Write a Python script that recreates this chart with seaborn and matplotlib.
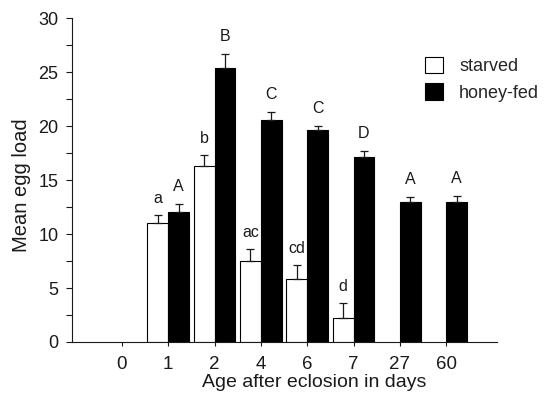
import numpy as np
import pandas as pd
import matplotlib
matplotlib.use('Agg')
import matplotlib.pyplot as plt
from matplotlib.patches import Patch
from matplotlib.ticker import MultipleLocator
import seaborn as sns

# ── data ─────────────────────────────────────────────────────────
days = ['0', '1', '2', '4', '6', '7', '27', '60']
groups = ['starved', 'honey-fed']

starved_days = ['1', '2', '4', '6', '7']
starved_mean = [11.0, 16.3, 7.5, 5.8, 2.2]
starved_se = [0.75, 1.0, 1.1, 1.3, 1.4]
starved_letters = ['a', 'b', 'ac', 'cd', 'd']

fed_days = ['1', '2', '4', '6', '7', '27', '60']
fed_mean = [12.0, 25.4, 20.6, 19.6, 17.1, 13.0, 13.0]
fed_se = [0.8, 1.3, 0.75, 0.45, 0.6, 0.45, 0.55]
fed_letters = ['A', 'B', 'C', 'C', 'D', 'A', 'A']

df = pd.concat([
    pd.DataFrame({'day': starved_days, 'mean': starved_mean, 'group': 'starved'}),
    pd.DataFrame({'day': fed_days, 'mean': fed_mean, 'group': 'honey-fed'}),
], ignore_index=True)

sns.set_style('ticks')
plt.rcParams['font.family'] = ['Liberation Sans', 'DejaVu Sans']
ink = '#1a1a1a'

fig = plt.figure(figsize=(5.44, 3.94), dpi=100)
ax = fig.add_axes([0.132, 0.132, 0.782, 0.822])

sns.barplot(data=df, x='day', y='mean', hue='group', order=days,
            hue_order=groups, palette={'starved': 'white', 'honey-fed': 'black'},
            edgecolor='black', linewidth=0.8, width=0.9, errorbar=None,
            legend=False, ax=ax)

# error bars (upper half only) + significance letters
for cont, ses, letters in zip(ax.containers, [starved_se, fed_se],
                              [starved_letters, fed_letters]):
    for bar, se, lab in zip(cont, ses, letters):
        xc = bar.get_x() + bar.get_width() / 2
        top = bar.get_height()
        ax.errorbar(xc, top, yerr=[[0], [se]], fmt='none', ecolor=ink,
                    elinewidth=0.9, capsize=3, capthick=0.9)
        ax.annotate(lab, (xc, top + se), xytext=(0, 9), textcoords='offset points',
                    ha='center', va='baseline', fontsize=11.5, color=ink)

ax.set_xlim(-1.08, 8.1)
ax.set_ylim(0, 30)
ax.set_yticks(range(0, 31, 5))
ax.yaxis.set_minor_locator(MultipleLocator(2.5))
ax.tick_params(axis='y', which='both', length=4.5, width=0.8, direction='out',
               labelsize=13, pad=5, colors=ink)
ax.tick_params(axis='x', length=3, width=0.8, direction='out', labelsize=13.5,
               pad=7, colors=ink)
sns.despine(ax=ax)
for s in ['left', 'bottom']:
    ax.spines[s].set_color(ink)
    ax.spines[s].set_linewidth(0.8)

ax.set_ylabel('Mean egg load', fontsize=14.5, color=ink)
ax.yaxis.set_label_coords(-0.097, 0.485)
ax.set_xlabel('Age after eclosion in days', fontsize=14, color=ink)
ax.xaxis.set_label_coords(0.57, -0.098)

handles = [Patch(facecolor='white', edgecolor='black', linewidth=0.8),
           Patch(facecolor='black', edgecolor='black', linewidth=0.8)]
ax.legend(handles, groups, loc='upper left', bbox_to_anchor=(0.83, 0.88),
          frameon=False, fontsize=13, handlelength=1.0, handleheight=1.0,
          handletextpad=0.9, labelspacing=0.45, borderpad=0, borderaxespad=0)

fig.savefig('out.png', dpi=100)
